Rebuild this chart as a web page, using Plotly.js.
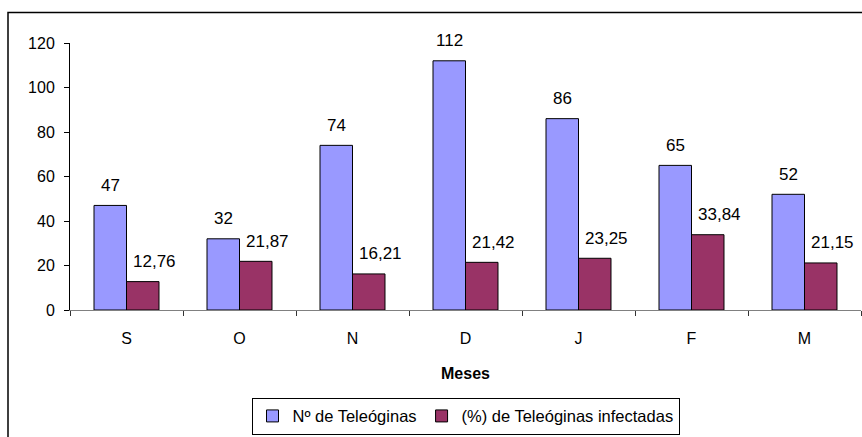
<!DOCTYPE html>
<html>
<head>
<meta charset="utf-8">
<script src="https://cdn.plot.ly/plotly-3.0.1.min.js"></script>
<style>
html,body{margin:0;padding:0;background:#fff;}
#chart{width:862px;height:437px;}
</style>
</head>
<body>
<div id="chart"></div>
<script>
const months = ["S", "O", "N", "D", "J", "F", "M"];
const numTeleoginas = [47, 32, 74, 112, 86, 65, 52];
const pctInfectadas = [12.76, 21.87, 16.21, 21.42, 23.25, 33.84, 21.15];
const yTicks = [0, 20, 40, 60, 80, 100, 120];
const seriesNames = ["Nº de Teleóginas", "(%) de Teleóginas infectadas"];

function fmt(v) { return String(v).replace('.', ','); }

const FONT = "Liberation Sans, Arial, sans-serif";

const traces = [
  {
    type: "bar", name: seriesNames[0], x: months, y: numTeleoginas,
    marker: {color: "#9999FF", line: {color: "#000000", width: 1}},
    hoverinfo: "skip"
  },
  {
    type: "bar", name: seriesNames[1], x: months, y: pctInfectadas,
    marker: {color: "#993366", line: {color: "#000000", width: 1}},
    hoverinfo: "skip"
  }
];

const annotations = [];
months.forEach((m, i) => {
  annotations.push({x: m, y: numTeleoginas[i], xref: "x", yref: "y", text: fmt(numTeleoginas[i]),
    showarrow: false, xshift: -16, yshift: 20, yanchor: "middle",
    font: {family: FONT, size: 17, color: "#000"}});
  annotations.push({x: m, y: pctInfectadas[i], xref: "x", yref: "y", text: fmt(pctInfectadas[i]),
    showarrow: false, xshift: 28, yshift: 20, yanchor: "middle",
    font: {family: FONT, size: 17, color: "#000"}});
});

const layout = {
  width: 862, height: 437,
  paper_bgcolor: "#ffffff", plot_bgcolor: "#ffffff",
  margin: {l: 70, r: 1, t: 42.5, b: 127, pad: 0, autoexpand: false},
  font: {family: FONT, size: 16, color: "#000"},
  barmode: "group", bargap: 0.425, bargroupgap: 0,
  showlegend: true,
  legend: {
    orientation: "h", x: 0.5, xanchor: "center", y: -0.467, yanchor: "bottom",
    bordercolor: "#000", borderwidth: 1, bgcolor: "#fff",
    font: {family: FONT, size: 16.5, color: "#000"},
    itemwidth: 30, tracegroupgap: 0
  },
  xaxis: {
    type: "category", showline: true, linecolor: "#808080", linewidth: 1,
    ticks: "outside", tickson: "boundaries", ticklen: 5, tickcolor: "#333",
    showgrid: false, zeroline: false, ticklabelstandoff: 14,
    tickfont: {family: FONT, size: 16, color: "#000"},
    title: {text: "<b>Meses</b>", standoff: 21, font: {family: FONT, size: 16, color: "#000"}}
  },
  yaxis: {
    range: [0, 120], tickvals: yTicks, ticktext: yTicks.map(String),
    showline: true, linecolor: "#000", linewidth: 1,
    ticks: "outside", ticklen: 5, tickcolor: "#000",
    showgrid: false, zeroline: false, ticklabelstandoff: 6,
    tickfont: {family: FONT, size: 16, color: "#000"}
  },
  annotations: annotations,
  shapes: [{
    type: "rect", xref: "paper", yref: "paper",
    x0: (8 - 70) / 791, x1: 1.02, y0: -0.6, y1: (310 - 12) / 267.5,
    line: {color: "#000", width: 1.5}, fillcolor: "rgba(0,0,0,0)", layer: "below"
  }]
};

Plotly.newPlot("chart", traces, layout, {staticPlot: true, displayModeBar: false});
</script>
</body>
</html>
